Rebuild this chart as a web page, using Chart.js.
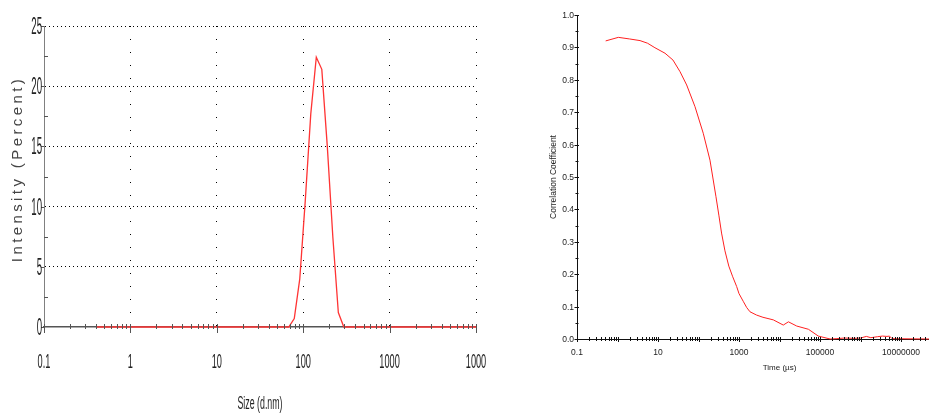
<!DOCTYPE html>
<html>
<head>
<meta charset="utf-8">
<script src="https://cdn.jsdelivr.net/npm/chart.js@4.4.1/dist/chart.umd.min.js"></script>
<style>
  body { margin: 0; background: #fff; width: 929px; height: 416px; overflow: hidden; position: relative; }
  #grafTamanho { position: absolute; left: 0; top: 0; }
  #grafCorrelacao { position: absolute; left: 490px; top: 0; }
</style>
</head>
<body>
<canvas id="grafTamanho" width="490" height="416"></canvas>
<canvas id="grafCorrelacao" width="492" height="416"></canvas>
<script>
// Distribuição por tamanho (classes em nm, intensidade em %)
const tamanhos = [0.4, 68.06, 78.82, 91.28, 105.7, 122.4, 141.8, 164.2, 190.1, 220.2, 255.0, 295.3, 10000];
const intensidades = [0, 0, 0.7, 4.0, 10.5, 17.7, 22.4, 21.4, 15.0, 7.5, 1.2, 0, 0];
const ticksTamanho = [0.1, 1, 10, 100, 1000, 10000];
const rotulosTamanho = ['0.1', '1', '10', '100', '1000', '1000'];
const ticksIntensidade = [0, 5, 10, 15, 20, 25];
const rotulosIntensidade = ['0', '5', '10', '15', '20', '25'];

// Correlograma (tempo em µs, coeficiente de correlação)
const tempos = [0.51, 1.05, 2.0, 3.6, 5.5, 8.4, 14.9, 23.4, 35, 51, 82, 131, 192, 270, 320, 371, 450, 560, 700,
  875, 1000, 1290, 1550, 1870, 2700, 3900, 7050, 12400, 16600, 26600, 51800, 91000, 178000, 250000, 400000,
  700000, 1000000, 1400000, 1800000, 2600000, 3500000, 4500000, 5200000, 6000000, 50000000];
const correlacao = [0.920, 0.931, 0.926, 0.921, 0.913, 0.899, 0.882, 0.861, 0.825, 0.784, 0.717, 0.635, 0.552,
  0.439, 0.380, 0.327, 0.272, 0.225, 0.192, 0.162, 0.140, 0.115, 0.097, 0.084, 0.074, 0.067, 0.059, 0.043,
  0.053, 0.040, 0.030, 0.009, 0.0, 0.001, 0.003, 0.002, 0.003, 0.008, 0.004, 0.007, 0.009, 0.008, 0.009,
  0.001, 0];
const ticksTempo = [0.1, 10, 1000, 100000, 10000000];
const rotulosTempo = ['0.1', '10', '1000', '100000', '10000000'];
const ticksCorrelacao = [0, 0.1, 0.2, 0.3, 0.4, 0.5, 0.6, 0.7, 0.8, 0.9, 1.0];
const rotulosCorrelacao = ['0.0', '0.1', '0.2', '0.3', '0.4', '0.5', '0.6', '0.7', '0.8', '0.9', '1.0'];

const fonte = "'Liberation Sans', Arial, sans-serif";
const invisivel = 'rgba(0,0,0,0)';

function pontos(xs, ys) {
    return xs.map((v, i) => ({ x: v, y: ys[i] }));
}

// texto estreito e alto, como no software do equipamento
function textoEstreito(ctx, txt, x, y, tam, escala, alinhar) {
    ctx.save();
    ctx.translate(x, y);
    ctx.scale(escala, 1);
    ctx.font = tam + 'px ' + fonte;
    ctx.textAlign = alinhar;
    ctx.textBaseline = 'alphabetic';
    ctx.fillText(txt, 0, 0);
    ctx.restore();
}

function linha(ctx, x1, y1, x2, y2) {
    ctx.beginPath();
    ctx.moveTo(x1, y1);
    ctx.lineTo(x2, y2);
    ctx.stroke();
}

const eixosTamanho = {
    id: 'eixosTamanho',
    afterDraw(chart) {
        const { ctx, chartArea: a, scales: { x, y } } = chart;
        ctx.save();
        ctx.strokeStyle = '#555';
        ctx.lineWidth = 1;
        // marcas do eixo x (2..9 em cada década)
        for (let d = -1; d < 4; d++) {
            for (let m = 1; m <= 10; m++) {
                const px = Math.round(x.getPixelForValue(m * Math.pow(10, d))) + 0.5;
                const maior = m === 1 || m === 10;
                linha(ctx, px, a.bottom - 3, px, a.bottom + (maior ? 6 : 2));
            }
        }
        // marcas do eixo y
        for (let v = 0; v <= 25; v += 2.5) {
            const py = Math.round(y.getPixelForValue(v)) + 0.5;
            if (v % 5 === 0) linha(ctx, a.left - 3, py, a.left, py);
            else linha(ctx, a.left, py, a.left + 4, py);
        }
        ctx.fillStyle = '#222';
        ticksIntensidade.forEach((v, i) => {
            textoEstreito(ctx, rotulosIntensidade[i], a.left - 2, y.getPixelForValue(v) + 8, 23, 0.42, 'right');
        });
        ticksTamanho.forEach((v, i) => {
            textoEstreito(ctx, rotulosTamanho[i], x.getPixelForValue(v), 368, 20, 0.46, 'center');
        });
        textoEstreito(ctx, 'Size (d.nm)', (a.left + a.right) / 2, 409, 18, 0.49, 'center');

        ctx.save();
        ctx.translate(18, 169);
        ctx.rotate(-Math.PI / 2);
        ctx.font = '15px ' + fonte;
        ctx.letterSpacing = '3.4px';
        ctx.fillStyle = '#444';
        ctx.textAlign = 'center';
        ctx.textBaseline = 'middle';
        ctx.fillText('Intensity (Percent)', 0, 0);
        ctx.restore();
        ctx.restore();
    }
};

const eixosCorrelacao = {
    id: 'eixosCorrelacao',
    afterDraw(chart) {
        const { ctx, chartArea: a, scales: { x, y } } = chart;
        ctx.save();
        ctx.strokeStyle = '#111';
        ctx.lineWidth = 1;
        for (let d = -1; d < 9; d++) {
            for (let m = 1; m < 10; m++) {
                const px = Math.round(x.getPixelForValue(m * Math.pow(10, d))) + 0.5;
                linha(ctx, px, a.bottom - 2, px, a.bottom + (m === 1 ? 3 : 2));
            }
        }
        for (let k = 0; k <= 20; k++) {
            const py = Math.round(y.getPixelForValue(k * 0.05)) + 0.5;
            if (k % 2 === 0) linha(ctx, a.left - 2.5, py, a.left + 2, py);
            else linha(ctx, a.left - 1.5, py, a.left + 1.5, py);
        }
        ctx.fillStyle = '#222';
        ctx.font = '8.5px ' + fonte;
        ctx.textAlign = 'right';
        ctx.textBaseline = 'alphabetic';
        ticksCorrelacao.forEach((v, i) => {
            ctx.fillText(rotulosCorrelacao[i], a.left - 3, y.getPixelForValue(v) + 3);
        });
        ctx.textAlign = 'center';
        ticksTempo.forEach((v, i) => {
            ctx.fillText(rotulosTempo[i], x.getPixelForValue(v), 355);
        });
        ctx.font = '8px ' + fonte;
        ctx.fillText('Time (µs)', (a.left + a.right) / 2, 370);

        ctx.translate(64, (a.top + a.bottom) / 2);
        ctx.rotate(-Math.PI / 2);
        ctx.font = '8.5px ' + fonte;
        ctx.textBaseline = 'middle';
        ctx.fillText('Correlation Coefficient', 0, 0);
        ctx.restore();
    }
};

new Chart(document.getElementById('grafTamanho'), {
    type: 'line',
    data: {
        datasets: [{
            data: pontos(tamanhos, intensidades),
            borderColor: '#ff3434',
            borderWidth: 1.3,
            pointRadius: 0,
            tension: 0,
            clip: false
        }]
    },
    options: {
        responsive: false,
        animation: false,
        events: [],
        layout: { padding: { left: 44, right: 14, top: 26, bottom: 89 } },
        plugins: { legend: { display: false }, tooltip: { enabled: false } },
        scales: {
            x: {
                type: 'logarithmic',
                min: 0.1,
                max: 10000,
                afterBuildTicks: s => { s.ticks = ticksTamanho.map(v => ({ value: v })); },
                ticks: { display: false },
                grid: { color: c => c.index > 0 ? '#000' : invisivel, lineWidth: 1, drawTicks: false },
                border: { color: '#555', width: 1.5, dash: [1, 12] }
            },
            y: {
                type: 'linear',
                min: 0,
                max: 25,
                afterBuildTicks: s => { s.ticks = ticksIntensidade.map(v => ({ value: v })); },
                ticks: { display: false },
                grid: { color: c => c.index > 0 ? '#000' : invisivel, lineWidth: 1, drawTicks: false },
                border: { color: '#808080', width: 1, dash: [1, 3] }
            }
        }
    },
    plugins: [eixosTamanho]
});

new Chart(document.getElementById('grafCorrelacao'), {
    type: 'line',
    data: {
        datasets: [{
            data: pontos(tempos, correlacao),
            borderColor: '#ff2020',
            borderWidth: 1,
            pointRadius: 0,
            tension: 0,
            clip: false
        }]
    },
    options: {
        responsive: false,
        animation: false,
        events: [],
        layout: { padding: { left: 87, right: 0, top: 15, bottom: 77 } },
        plugins: { legend: { display: false }, tooltip: { enabled: false } },
        scales: {
            x: {
                type: 'logarithmic',
                min: 0.1,
                max: 1000000000,
                afterBuildTicks: s => { s.ticks = ticksTempo.map(v => ({ value: v })); },
                ticks: { display: false },
                grid: { display: false, drawTicks: false },
                border: { color: '#111', width: 1 }
            },
            y: {
                type: 'linear',
                min: 0,
                max: 1,
                afterBuildTicks: s => { s.ticks = ticksCorrelacao.map(v => ({ value: v })); },
                ticks: { display: false },
                grid: { display: false, drawTicks: false },
                border: { color: '#111', width: 1 }
            }
        }
    },
    plugins: [eixosCorrelacao]
});
</script>
</body>
</html>
